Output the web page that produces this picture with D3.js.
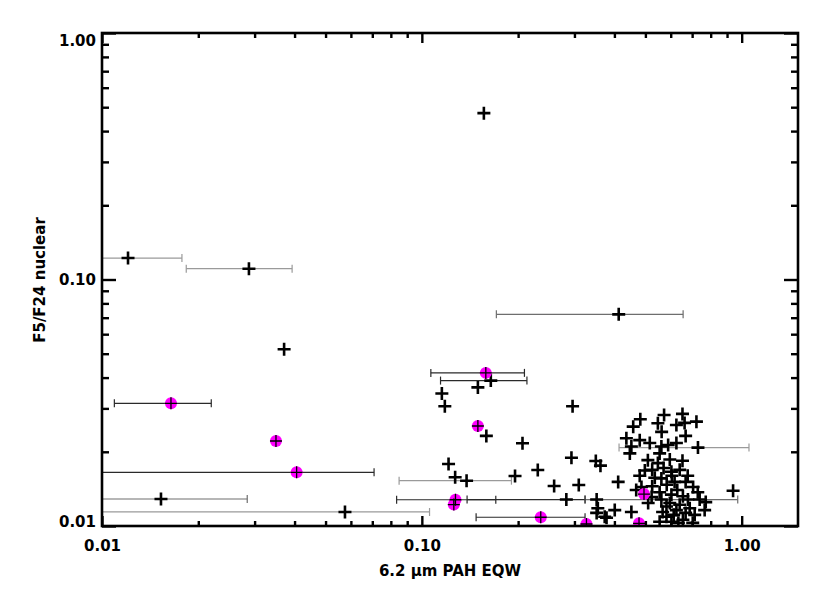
<!DOCTYPE html>
<html><head><meta charset="utf-8">
<script src="https://cdn.jsdelivr.net/npm/d3@7"></script>
<style>body{margin:0;background:#fff}</style>
</head><body>
<svg id="c" width="830" height="593"></svg>
<script>
// ---- data ----
const xMajorTicks = [0.01, 0.1, 1.0];
const yMajorTicks = [0.01, 0.1, 1.0];
const xTitle = "6.2 \u03bcm PAH EQW";
const yTitle = "F5/F24  nuclear";

// black sources
const blackX = [0.1563,0.01206,0.0288,0.0371,0.4126,0.1643,0.1497,0.1155,0.1180,0.296,0.1591,0.2064,0.1212,0.2936,0.3499,0.3618,0.1271,0.138,0.1956,0.2304,0.2592,0.3095,0.01529,0.0575,0.283,
  0.482,0.458,0.572,0.547,0.653,0.625,0.663,0.722,0.436,0.452,0.447,0.516,0.561,0.589,0.625,0.730,0.554,0.596,0.653,0.547,0.498,0.525,0.603,0.561,0.411,0.617,0.486,0.525,0.705,0.940,0.468,0.603,0.655,0.739,0.772,0.679,0.561,0.510,0.582,0.625,0.401,0.452,0.373,0.713,0.582,0.655,0.603,0.352,0.355,0.352,0.378,
  0.570,0.605,0.640,0.583,0.629,0.668,0.554,0.596,0.640,0.688,0.566,0.613,0.668,0.634,0.554,0.703,0.535,0.509,0.480,0.523,0.729,0.766,0.678,0.562,0.668,0.480];
const blackY = [0.473,0.1222,0.1106,0.0521,0.0722,0.0389,0.0365,0.0345,0.0306,0.0306,0.0232,0.02165,0.01784,0.01893,0.01835,0.01757,0.01576,0.01527,0.01595,0.01687,0.01453,0.01466,0.01287,0.0114,0.0128,
  0.0271,0.0253,0.0282,0.0261,0.0285,0.0257,0.0262,0.0265,0.0227,0.0210,0.0197,0.0217,0.0210,0.0213,0.0217,0.0208,0.0197,0.0186,0.0184,0.0180,0.0168,0.0169,0.0166,0.0156,0.0151,0.0151,0.0144,0.0145,0.0144,0.0139,0.0140,0.0134,0.0132,0.0128,0.0125,0.0128,0.0128,0.0124,0.0120,0.0116,0.0116,0.0114,0.0109,0.0111,0.0109,0.0106,0.0104,0.0128,0.0118,0.0113,0.0108,
  0.0172,0.0160,0.0169,0.0147,0.0140,0.0151,0.0137,0.0124,0.0122,0.0118,0.0114,0.0111,0.0113,0.0103,0.0104,0.0103,0.0157,0.0185,0.0160,0.0131,0.0137,0.0116,0.0160,0.0241,0.0232,0.0223];

// magenta sources
const magX = [0.01643,0.03499,0.0406,0.1585,0.1497,0.1274,0.1259,0.2354,0.3271,0.4776,0.495];
const magY = [0.03146,0.02212,0.01651,0.0418,0.02545,0.01278,0.01222,0.01085,0.01019,0.01025,0.01348];

// horizontal error bars
const barY    = [0.1222,0.1106,0.0722,0.0418,0.0389,0.03146,0.01651,0.01527,0.0208,0.01287,0.01278,0.0128,0.0128,0.0114,0.01085];
const barLo   = [0.005,0.01834,0.171,0.1067,0.1144,0.01093,0.005,0.0849,0.4136,0.005,0.0834,0.1385,0.3238,0.005,0.1478];
const barHi   = [0.01778,0.0393,0.656,0.2093,0.2131,0.02196,0.0709,0.1906,1.054,0.02845,0.1703,0.3238,0.972,0.1057,0.3238];
const barTone = ["light","light","mid","dark","dark","dark","dark","light","light","mid","dark","dark","mid","light","dark"];
const toneColor = {light:"#9a9a9a", mid:"#6e6e6e", dark:"#2a2a2a"};

// ---- layout ----
const L = 102, R = 798, T = 33, B = 526;
const svg = d3.select("#c");
const x = d3.scaleLog().domain([0.01, 1.5]).range([L, R]);
const y = d3.scaleLog().domain([0.01, 1.0]).range([B, T]);

svg.append("defs").append("clipPath").attr("id","clip")
  .append("rect").attr("x",L).attr("y",T).attr("width",R-L).attr("height",B-T);

const plot = svg.append("g").attr("clip-path","url(#clip)");

// error bars
const bars = barY.map((v,i)=>({y:v, lo:barLo[i], hi:barHi[i], c:toneColor[barTone[i]]}));
const bg = plot.append("g");
bg.selectAll("line.h").data(bars).join("line")
  .attr("x1",d=>x(d.lo)).attr("x2",d=>x(d.hi))
  .attr("y1",d=>y(d.y)).attr("y2",d=>y(d.y))
  .attr("stroke",d=>d.c).attr("stroke-width",1.2);
bg.selectAll("line.cl").data(bars).join("line")
  .attr("x1",d=>x(d.lo)).attr("x2",d=>x(d.lo))
  .attr("y1",d=>y(d.y)-4).attr("y2",d=>y(d.y)+4)
  .attr("stroke",d=>d.c).attr("stroke-width",1.2);
bg.selectAll("line.ch").data(bars).join("line")
  .attr("x1",d=>x(d.hi)).attr("x2",d=>x(d.hi))
  .attr("y1",d=>y(d.y)-4).attr("y2",d=>y(d.y)+4)
  .attr("stroke",d=>d.c).attr("stroke-width",1.2);

// black plus symbols
const blk = blackX.map((v,i)=>({x:v,y:blackY[i]}));
const plusPath = (s)=>`M${-s},0H${s}M0,${-s}V${s}`;
plot.append("g").selectAll("path").data(blk).join("path")
  .attr("transform",d=>`translate(${x(d.x)},${y(d.y)})`)
  .attr("d",plusPath(6.5)).attr("stroke","#000").attr("stroke-width",2.6).attr("fill","none");

// magenta
const mg = magX.map((v,i)=>({x:v,y:magY[i]}));
const mgG = plot.append("g");
mgG.selectAll("circle").data(mg).join("circle")
  .attr("cx",d=>x(d.x)).attr("cy",d=>y(d.y)).attr("r",6)
  .attr("fill","#ff00ff");
mgG.selectAll("path").data(mg).join("path")
  .attr("transform",d=>`translate(${x(d.x)},${y(d.y)})`)
  .attr("d",plusPath(6)).attr("stroke","#000").attr("stroke-width",1.3).attr("fill","none");

// ---- axes ----
const minorX = [], minorY = [];
[0.01,0.1,1].forEach(dec=>{ for(let k=2;k<=9;k++){ const v=dec*k; if(v<=1.5) minorX.push(v); if(v<1) minorY.push(v);} });
const fmt = d3.format(".2f");
const font = "DejaVu Sans";

function styleAxis(g){
  g.select(".domain").remove();
  g.selectAll("line").attr("stroke","#000").attr("stroke-width",2.4);
  g.selectAll("text").attr("font-family",font).attr("font-weight","bold").attr("font-size",15).attr("fill","#000");
}
// bottom
svg.append("g").attr("transform",`translate(0,${B})`)
  .call(d3.axisBottom(x).tickValues(xMajorTicks).tickSize(-10).tickPadding(14).tickFormat(fmt)).call(styleAxis);
svg.append("g").attr("transform",`translate(0,${B})`)
  .call(d3.axisBottom(x).tickValues(minorX).tickSize(-5).tickFormat("")).call(styleAxis);
// top
svg.append("g").attr("transform",`translate(0,${T})`)
  .call(d3.axisTop(x).tickValues(xMajorTicks).tickSize(-10).tickFormat("")).call(styleAxis);
svg.append("g").attr("transform",`translate(0,${T})`)
  .call(d3.axisTop(x).tickValues(minorX).tickSize(-5).tickFormat("")).call(styleAxis);
// left (end labels pulled inward, as in the reference)
const gl = svg.append("g").attr("transform",`translate(${L},0)`)
  .call(d3.axisLeft(y).tickValues(yMajorTicks).tickSize(-14).tickPadding(6).tickFormat(fmt)).call(styleAxis);
gl.selectAll("text").attr("dy",d=> d>=1 ? "0.82em" : (d<=0.01 ? "0.02em" : "0.36em"));
svg.append("g").attr("transform",`translate(${L},0)`)
  .call(d3.axisLeft(y).tickValues(minorY).tickSize(-7).tickFormat("")).call(styleAxis);
// right
svg.append("g").attr("transform",`translate(${R},0)`)
  .call(d3.axisRight(y).tickValues(yMajorTicks).tickSize(-14).tickFormat("")).call(styleAxis);
svg.append("g").attr("transform",`translate(${R},0)`)
  .call(d3.axisRight(y).tickValues(minorY).tickSize(-7).tickFormat("")).call(styleAxis);

// frame
svg.append("rect").attr("x",L).attr("y",T).attr("width",R-L).attr("height",B-T)
  .attr("fill","none").attr("stroke","#000").attr("stroke-width",2.6);

// titles
svg.append("text").attr("x",(L+R)/2).attr("y",576).attr("text-anchor","middle")
  .attr("font-family",font).attr("font-weight","bold").attr("font-size",15).text(xTitle);
svg.append("text").attr("transform",`translate(45,280) rotate(-90)`).attr("text-anchor","middle")
  .attr("font-family",font).attr("font-weight","bold").attr("font-size",15).text(yTitle);
</script>
</body></html>
